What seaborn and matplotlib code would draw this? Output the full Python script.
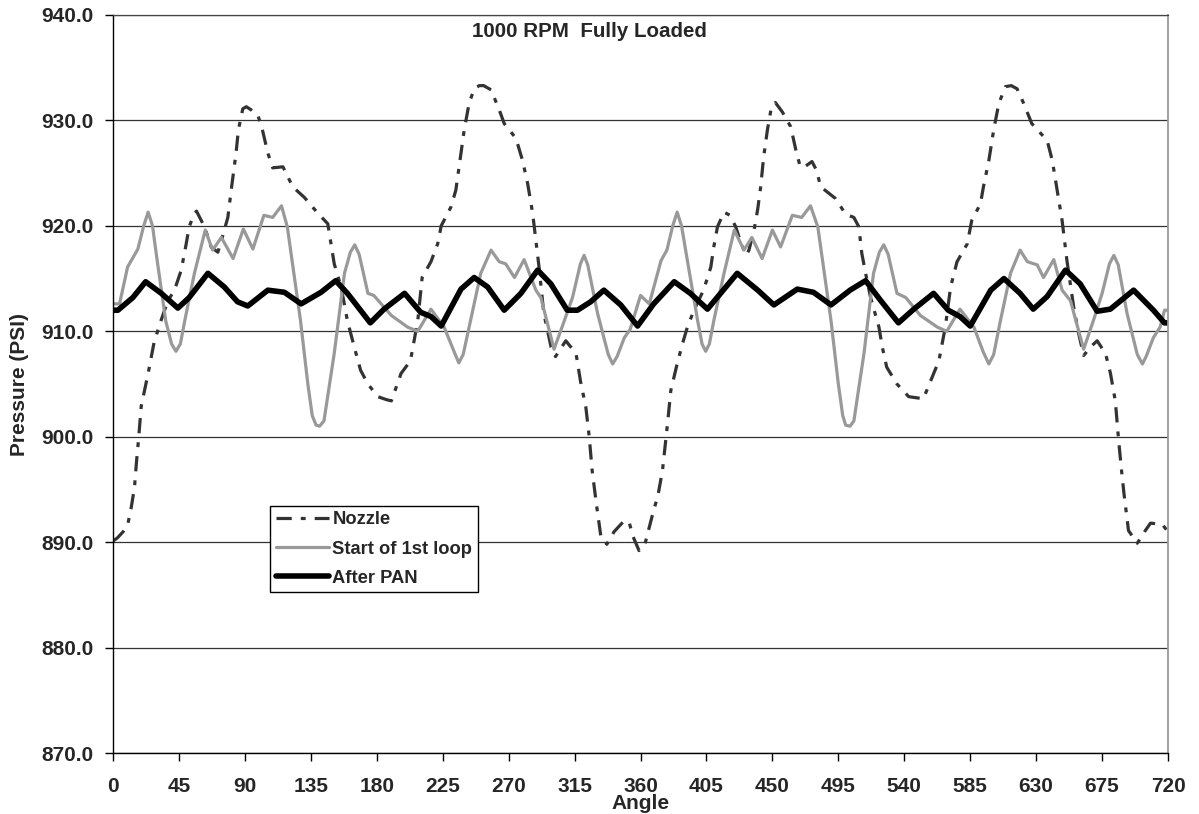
import matplotlib
matplotlib.use("Agg")
import matplotlib.pyplot as plt
import seaborn as sns
import pandas as pd

# ---------------- data ----------------
nozzle_angle = [0, 3, 7, 10, 12.5, 14.7, 16, 17.5, 19.3, 24, 28, 32, 37.5, 42, 46.6, 50, 52, 55, 57,
                62.5, 67, 71.6, 74, 78.4, 80.7, 84, 85.6, 88.6, 91, 94.3, 98.9, 102, 105.7, 109, 116,
                122.7, 130.6, 139.8, 146.6, 151, 155.7, 160, 164.7, 169, 174, 180.7, 187, 190, 196.6,
                203, 208, 211, 217, 221.6, 224, 230.7, 234, 236.5, 239.7, 243, 246.5, 250, 253, 258,
                263.6, 267, 275, 279.5, 283, 286.4, 288.6, 291, 294, 299, 302, 309, 316, 319, 322.7,
                325, 327, 330, 333, 337, 342, 348, 352, 355, 359, 363, 368, 372, 375, 378.4, 380.7,
                385, 388.6, 392, 396.5, 403, 408, 410, 412.5, 417, 421, 425, 428, 432, 434, 437.5,
                440, 442, 444, 446.6, 449, 452, 456.8, 462.5, 466, 469, 472, 477, 480, 483, 493, 500,
                505.6, 509, 511, 513.6, 517, 522.7, 525, 528, 535, 543, 553, 558, 563.6, 568, 571.6,
                576, 583, 586, 592, 594, 597.7, 601, 604.5, 609, 613, 617, 621.5, 627, 637.5, 641,
                644.3, 647.7, 651, 655.6, 659, 662.4, 667, 671.6, 677.3, 680.7, 684, 686.3, 688.6,
                690, 693, 699, 704, 708, 716, 719.3, 720]
nozzle_psi = [890.1, 890.4, 891.0, 891.6, 893.3, 895.2, 897.5, 899.8, 902.9, 906.0, 908.9, 910.7, 912.9,
              913.9, 915.8, 918.3, 919.9, 921.0, 921.4, 919.9, 918.0, 917.5, 918.6, 920.8, 923.4, 926.9,
              929.1, 931.1, 931.3, 931.0, 930.5, 929.1, 926.9, 925.5, 925.6, 923.7, 922.7, 921.2, 920.2,
              916.4, 914.2, 911.0, 908.5, 906.3, 905.0, 903.8, 903.5, 903.4, 906.0, 907.2, 911.0, 915.1,
              916.6, 918.3, 920.0, 921.8, 923.4, 925.9, 929.1, 931.6, 933.0, 933.3, 933.3, 932.9, 931.0,
              929.7, 928.3, 926.2, 924.0, 921.2, 918.6, 915.8, 911.7, 908.5, 907.6, 909.1, 907.9, 905.3,
              902.8, 900.0, 896.8, 893.5, 890.5, 889.8, 891.0, 891.9, 892.0, 890.5, 889.2, 889.8, 892.5,
              894.5, 896.8, 901.2, 904.4, 906.9, 908.8, 910.4, 912.0, 913.9, 916.1, 918.0, 919.9, 921.3,
              921.0, 919.9, 918.6, 917.2, 917.7, 919.6, 921.6, 923.7, 926.5, 929.1, 931.0, 931.7, 930.8,
              929.4, 927.2, 925.6, 925.6, 926.1, 925.3, 923.7, 922.6, 921.1, 920.8, 919.9, 917.4, 915.5,
              913.2, 910.4, 908.5, 906.6, 905.0, 903.8, 903.6, 905.3, 907.2, 910.4, 914.2, 916.6, 918.3,
              920.5, 922.1, 923.7, 926.2, 929.1, 931.6, 933.2, 933.3, 933.0, 931.6, 929.7, 928.1, 926.2,
              923.4, 920.5, 916.7, 912.3, 909.8, 907.7, 908.5, 909.1, 907.9, 906.0, 903.4, 899.6, 896.3,
              894.5, 891.1, 889.9, 891.0, 891.8, 891.7, 891.1, 891.1]

loop_angle = [0, 4.5, 10, 17, 21, 24, 27, 29.5, 36, 40, 43, 46, 49, 55.6, 63, 68, 74, 82, 89, 95.5, 103,
              109, 115, 119, 128, 133, 136, 138.6, 141, 144, 151, 158, 162, 165, 168, 174, 178, 190, 201,
              208, 217, 226, 233, 236, 239, 244, 251, 258, 263.6, 268, 274, 280.6, 288.6, 292, 301, 308,
              313.6, 319, 321.5, 324, 330.7, 338, 341, 344, 349, 353, 360, 366, 374, 378, 382, 385, 388,
              392, 399, 402, 404.5, 407, 410, 417, 424, 430.6, 436, 443, 450, 455.6, 463.6, 470, 476,
              481, 490, 495, 498, 500, 503, 505.6, 512.5, 519, 523, 526, 529, 535, 541, 551, 562.5, 569,
              578, 587.5, 594, 597.7, 601, 605.6, 612.5, 619, 624, 630.7, 635, 642, 647.7, 653.4, 662.4,
              669, 675, 680, 683, 686, 692, 699, 702.5, 705, 710, 714.6, 717.6, 720]
loop_psi = [912.6, 912.6, 916.1, 917.8, 920.0, 921.3, 920.0, 917.4, 911.0, 908.8, 908.1, 908.8, 911.0,
            915.5, 919.6, 917.7, 918.9, 916.9, 919.7, 917.8, 921.0, 920.8, 921.9, 919.9, 911.0, 905.0,
            902.0, 901.1, 901.0, 901.5, 907.9, 915.5, 917.5, 918.2, 917.3, 913.6, 913.4, 911.5, 910.4,
            910.0, 912.1, 910.4, 908.0, 907.0, 907.8, 911.0, 915.5, 917.7, 916.6, 916.4, 915.1, 916.8,
            913.9, 913.2, 908.3, 911.0, 913.2, 916.4, 917.2, 916.3, 911.7, 907.8, 906.9, 907.6, 909.4,
            910.2, 913.4, 912.6, 916.7, 917.7, 920.0, 921.3, 920.0, 916.7, 911.0, 908.8, 908.1, 908.8,
            911.0, 915.5, 919.6, 917.7, 918.9, 916.9, 919.6, 918.0, 921.0, 920.8, 921.9, 919.9, 911.0,
            905.0, 902.0, 901.1, 901.0, 901.5, 907.9, 915.5, 917.5, 918.2, 917.3, 913.6, 913.2, 911.5,
            910.4, 910.0, 912.1, 910.4, 908.0, 906.9, 907.8, 911.0, 915.5, 917.7, 916.6, 916.3, 915.1,
            916.8, 913.9, 912.9, 908.3, 911.0, 913.6, 916.4, 917.2, 916.3, 911.7, 907.8, 906.9, 907.6,
            909.4, 910.4, 912.0, 912.0]

pan_angle = [0, 3.4, 13.6, 22.3, 33, 44.3, 52, 64.8, 76, 85, 92, 105.7, 117, 128.4, 142, 152, 160,
             175.6, 185, 199, 210, 217, 224, 237.5, 246.5, 255.7, 267, 278.4, 289.8, 298.8, 310, 317,
             326, 335, 346.5, 358, 369, 383, 394, 405.7, 426, 440, 451, 467, 478, 490, 503, 513.6, 524,
             536, 546.5, 560, 570, 578, 585, 599, 608, 619, 628, 637.5, 650, 660, 671.6, 680.6, 696.5,
             710, 717.5, 720]
pan_psi = [912.0, 912.0, 913.2, 914.7, 913.6, 912.2, 913.2, 915.5, 914.2, 912.8, 912.4, 913.9, 913.7,
           912.6, 913.7, 914.8, 913.6, 910.8, 912.1, 913.6, 911.8, 911.4, 910.5, 914.0, 915.1, 914.2,
           912.0, 913.6, 915.8, 914.5, 912.0, 912.0, 912.8, 913.9, 912.5, 910.5, 912.6, 914.7, 913.6,
           912.1, 915.5, 913.9, 912.5, 914.0, 913.7, 912.5, 913.9, 914.8, 912.9, 910.8, 912.1, 913.6,
           912.0, 911.4, 910.5, 913.9, 915.0, 913.6, 912.1, 913.3, 915.8, 914.5, 911.9, 912.1, 913.9,
           912.0, 910.8, 910.8]

series_names = ["Nozzle", "Start of 1st loop", "After PAN"]
x_ticks = list(range(0, 721, 45))
y_ticks = [870, 880, 890, 900, 910, 920, 930, 940]
title_text = "1000 RPM  Fully Loaded"

# ---------------- style ----------------
sns.set_theme(style="white")
plt.rcParams["font.family"] = ["Liberation Sans", "DejaVu Sans"]
plt.rcParams["font.weight"] = "bold"
plt.rcParams["lines.scale_dashes"] = False

fig = plt.figure(figsize=(11.99, 8.14), dpi=100)
ax = fig.add_axes([0.0942, 0.0749, 0.8800, 0.9067])

df_n = pd.DataFrame({"Angle": nozzle_angle, "PSI": nozzle_psi})
df_l = pd.DataFrame({"Angle": loop_angle, "PSI": loop_psi})
df_p = pd.DataFrame({"Angle": pan_angle, "PSI": pan_psi})

sns.lineplot(data=df_n, x="Angle", y="PSI", ax=ax, color="#333333", linewidth=2.3,
             linestyle=(0, (11, 6.5, 3.5, 6.5)), label=series_names[0], estimator=None, sort=False)
sns.lineplot(data=df_l, x="Angle", y="PSI", ax=ax, color="#999999", linewidth=2.3,
             label=series_names[1], estimator=None, sort=False)
sns.lineplot(data=df_p, x="Angle", y="PSI", ax=ax, color="#000000", linewidth=4.0,
             label=series_names[2], estimator=None, sort=False)
for ln in ax.get_lines():
    ln.set_solid_joinstyle("round")
    ln.set_dash_joinstyle("round")

ax.set_xlim(0, 720)
ax.set_ylim(870, 940)
ax.set_xticks(x_ticks)
ax.set_yticks(y_ticks)
ax.set_yticklabels([f"{v:.1f}" for v in y_ticks])
ax.tick_params(axis="both", which="major", direction="out", length=6, width=1,
               color="#000000", labelsize=15, bottom=True, left=True)
ax.tick_params(axis="x", pad=11)
ax.tick_params(axis="y", pad=8)
for lab in ax.get_xticklabels() + ax.get_yticklabels():
    lab.set_fontweight("bold")

ax.yaxis.grid(True, color="#333333", linewidth=0.9)
ax.xaxis.grid(False)
ax.set_axisbelow(True)

ax.spines["left"].set_color("#000000")
ax.spines["left"].set_linewidth(1.0)
ax.spines["bottom"].set_color("#000000")
ax.spines["bottom"].set_linewidth(1.0)
ax.spines["top"].set_color("#444444")
ax.spines["top"].set_linewidth(0.9)
ax.spines["right"].set_color("#999999")
ax.spines["right"].set_linewidth(1.3)

ax.set_xlabel("Angle", fontsize=15, fontweight="bold", labelpad=-1.5)
ax.set_ylabel("Pressure (PSI)", fontsize=15, fontweight="bold", labelpad=9)

ax.text(0.452, 0.977, title_text, transform=ax.transAxes, ha="center", va="center",
        fontsize=14.8, fontweight="bold")

leg = ax.legend(loc="lower left", bbox_to_anchor=(0.149, 0.218), borderaxespad=0,
                fancybox=False, framealpha=1, edgecolor="#000000", fontsize=13.2,
                handlelength=2.9, handletextpad=0.2, labelspacing=0.66, borderpad=0.3)
leg.get_frame().set_linewidth(1.0)
for t in leg.get_texts():
    t.set_fontweight("bold")

fig.savefig("out.png", dpi=100)
